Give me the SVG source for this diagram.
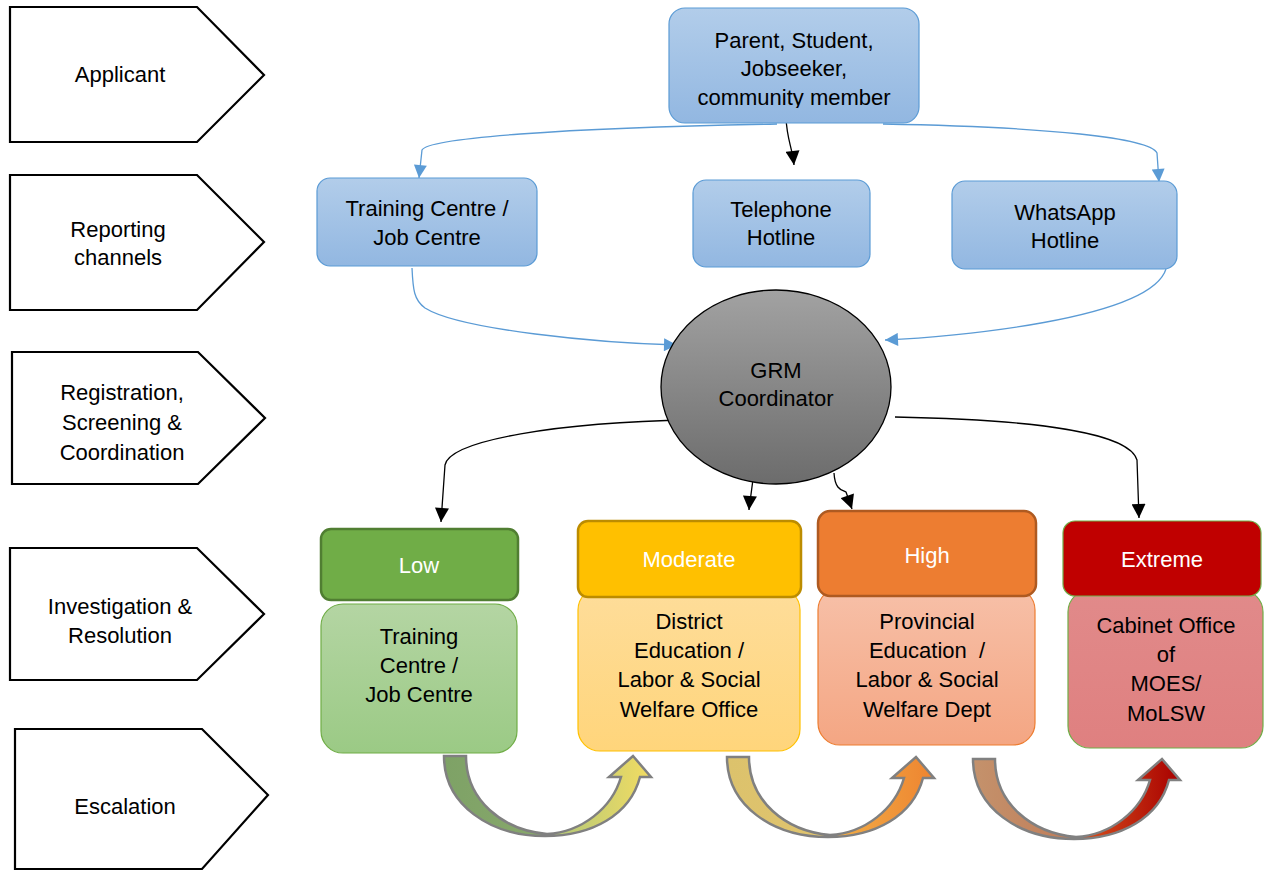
<svg xmlns="http://www.w3.org/2000/svg" width="1264" height="875" viewBox="0 0 1264 875">
<style>
text{font-family:"Liberation Sans",Arial,sans-serif;font-size:22px;fill:#000;text-anchor:middle}
.stage{fill:#fff;stroke:#000;stroke-width:2.2}
.blue{fill:url(#gBlue);stroke:#5b9bd5;stroke-width:1.2}
.wt{fill:#fff}
.cb{fill:none;stroke:#5b9bd5;stroke-width:1.3;marker-end:url(#mBlue)}
.ck{fill:none;stroke:#000;stroke-width:1.3;marker-end:url(#mBlack)}
.esc{stroke:#808080;stroke-width:2.5;stroke-linejoin:miter}
</style>
<defs>
<linearGradient id="gBlue" x1="0" y1="0" x2="0" y2="1"><stop offset="0" stop-color="#b2cdea"/><stop offset="1" stop-color="#92b7e1"/></linearGradient>
<linearGradient id="gGray" x1="0" y1="0" x2="0" y2="1"><stop offset="0" stop-color="#a2a2a2"/><stop offset="1" stop-color="#6c6c6c"/></linearGradient>
<linearGradient id="gLow" x1="0" y1="0" x2="0" y2="1"><stop offset="0" stop-color="#b4d5a3"/><stop offset="1" stop-color="#9bca85"/></linearGradient>
<linearGradient id="gMod" x1="0" y1="0" x2="0" y2="1"><stop offset="0" stop-color="#fedd9a"/><stop offset="1" stop-color="#ffd57b"/></linearGradient>
<linearGradient id="gHigh" x1="0" y1="0" x2="0" y2="1"><stop offset="0" stop-color="#f7c0a8"/><stop offset="1" stop-color="#f4a683"/></linearGradient>
<linearGradient id="gExt" x1="0" y1="0" x2="0" y2="1"><stop offset="0" stop-color="#e18a8a"/><stop offset="1" stop-color="#df8080"/></linearGradient>
<linearGradient id="gE1" x1="0" y1="0" x2="1" y2="0"><stop offset="0" stop-color="#7ea266"/><stop offset="0.49" stop-color="#88a86c"/><stop offset="0.5" stop-color="#aec67a"/><stop offset="1" stop-color="#f2dc62"/></linearGradient>
<linearGradient id="gE2" x1="0" y1="0" x2="1" y2="0"><stop offset="0" stop-color="#dcc26c"/><stop offset="0.49" stop-color="#e0c46e"/><stop offset="0.5" stop-color="#f2b048"/><stop offset="1" stop-color="#ee8430"/></linearGradient>
<linearGradient id="gE3" x1="0" y1="0" x2="1" y2="0"><stop offset="0" stop-color="#c4926c"/><stop offset="0.49" stop-color="#c07c58"/><stop offset="0.5" stop-color="#d8541e"/><stop offset="1" stop-color="#a80000"/></linearGradient>
<marker id="mBlue" viewBox="0 0 10 10" refX="10" refY="5" markerWidth="15" markerHeight="13" markerUnits="userSpaceOnUse" orient="auto"><path d="M0,0 L10,5 L0,10 z" fill="#5b9bd5"/></marker>
<marker id="mBlack" viewBox="0 0 10 10" refX="10" refY="5" markerWidth="16" markerHeight="14" markerUnits="userSpaceOnUse" orient="auto"><path d="M0,0 L10,5 L0,10 z" fill="#000"/></marker>
<path id="escArrow" d="M 444 756 C 444 805 490 836 545 836 C 592 836 630 815 640 777 L 651 777 L 633 756 L 609 777 L 621 777 C 612 808 582 832 547 834 C 502 830 466 800 466 756 Z"/>
<clipPath id="clipParent"><rect x="669" y="8" width="250" height="100"/></clipPath>
</defs>

<g id="stages">
<g id="stage-applicant"><polygon class="stage" points="10,7 197,7 264,75 197,142 10,142"/><text x="120" y="82">Applicant</text></g>
<g id="stage-reporting"><polygon class="stage" points="10,175 197,175 264,242 197,310 10,310"/><text x="118" y="237">Reporting</text><text x="118" y="265">channels</text></g>
<g id="stage-registration"><polygon class="stage" points="12,352 198,352 265,418 198,484 12,484"/><text x="122" y="400">Registration,</text><text x="122" y="430">Screening &amp;</text><text x="122" y="460">Coordination</text></g>
<g id="stage-investigation"><polygon class="stage" points="10,548 197,548 264,614 197,680 10,680"/><text x="120" y="614">Investigation &amp;</text><text x="120" y="643">Resolution</text></g>
<g id="stage-escalation"><polygon class="stage" points="15,729 202,729 268,795 202,869 15,869"/><text x="125" y="814">Escalation</text></g>
</g>

<g id="connectors">
<path class="cb" d="M 777 124 C 560 128 428 138 422 150 L 419 178"/>
<path class="cb" d="M 883 124 C 1050 127 1150 138 1157 153 L 1159 182"/>
<path class="ck" d="M 786 118 C 787 140 792 146 794 165"/>
<path class="cb" d="M 412 268 C 413 290 414 300 425 308 C 460 330 600 343 677 345"/>
<path class="cb" d="M 1166 269 C 1150 320 950 337 885 340"/>
<path class="ck" d="M 691 420 C 560 422 450 440 445 465 L 441 522"/>
<path class="ck" d="M 753 473 C 753 490 750 495 749 510"/>
<path class="ck" d="M 834 473 C 835 490 842 490 846 492 L 852 509"/>
<path class="ck" d="M 895 417 C 1050 420 1130 435 1137 460 L 1139 518"/>
</g>

<g id="node-applicant"><rect class="blue" x="669" y="8" width="250" height="115" rx="16"/><g clip-path="url(#clipParent)"><text x="794" y="48">Parent, Student,</text><text x="794" y="76">Jobseeker,</text><text x="794" y="105">community member</text></g></g>
<g id="node-training"><rect class="blue" x="317" y="178" width="220" height="88" rx="13"/><text x="427" y="216">Training Centre /</text><text x="427" y="245">Job Centre</text></g>
<g id="node-telephone"><rect class="blue" x="693" y="180" width="177" height="87" rx="13"/><text x="781" y="217">Telephone</text><text x="781" y="245">Hotline</text></g>
<g id="node-whatsapp"><rect class="blue" x="952" y="181" width="225" height="88" rx="13"/><text x="1065" y="220">WhatsApp</text><text x="1065" y="248">Hotline</text></g>
<g id="node-grm"><ellipse cx="776" cy="387" rx="115" ry="97" fill="url(#gGray)" stroke="#000" stroke-width="1.3"/><text x="776" y="378">GRM</text><text x="776" y="406">Coordinator</text></g>

<g id="node-low">
<rect x="321" y="604" width="196" height="149" rx="22" fill="url(#gLow)" stroke="#70ad47" stroke-width="1.2"/>
<rect x="321" y="529" width="197" height="71" rx="10" fill="#70ad47" stroke="#507e32" stroke-width="2.5"/>
<text class="wt" x="419" y="573">Low</text>
<text x="419" y="644">Training</text><text x="419" y="673">Centre /</text><text x="419" y="702">Job Centre</text>
</g>
<g id="node-moderate">
<rect x="578" y="588" width="222" height="163" rx="22" fill="url(#gMod)" stroke="#ffc000" stroke-width="1.2"/>
<rect x="578" y="521" width="223" height="76" rx="10" fill="#ffc000" stroke="#bc8c00" stroke-width="2.5"/>
<text class="wt" x="689" y="567">Moderate</text>
<text x="689" y="629">District</text><text x="689" y="658">Education /</text><text x="689" y="687">Labor &amp; Social</text><text x="689" y="717">Welfare Office</text>
</g>
<g id="node-high">
<rect x="818" y="588" width="217" height="157" rx="22" fill="url(#gHigh)" stroke="#ed7d31" stroke-width="1.2"/>
<rect x="818" y="511" width="218" height="85" rx="12" fill="#ed7d31" stroke="#ae5a21" stroke-width="2.5"/>
<text class="wt" x="927" y="563">High</text>
<text x="927" y="629">Provincial</text><text x="927" y="658" xml:space="preserve">Education  /</text><text x="927" y="687">Labor &amp; Social</text><text x="927" y="717">Welfare Dept</text>
</g>
<g id="node-extreme">
<rect x="1068" y="590" width="195" height="158" rx="22" fill="url(#gExt)" stroke="#70ad47" stroke-width="1.2"/>
<rect x="1063" y="521" width="198" height="75" rx="12" fill="#c00000" stroke="#70ad47" stroke-width="1.2"/>
<text class="wt" x="1162" y="567">Extreme</text>
<text x="1166" y="633">Cabinet Office</text><text x="1166" y="662">of</text><text x="1166" y="691">MOES/</text><text x="1166" y="721">MoLSW</text>
</g>

<g id="escalation-arrows">
<use href="#escArrow" class="esc" fill="url(#gE1)"/>
<use href="#escArrow" class="esc" fill="url(#gE2)" transform="translate(283,1)"/>
<use href="#escArrow" class="esc" fill="url(#gE3)" transform="translate(529,3)"/>
</g>
</svg>
